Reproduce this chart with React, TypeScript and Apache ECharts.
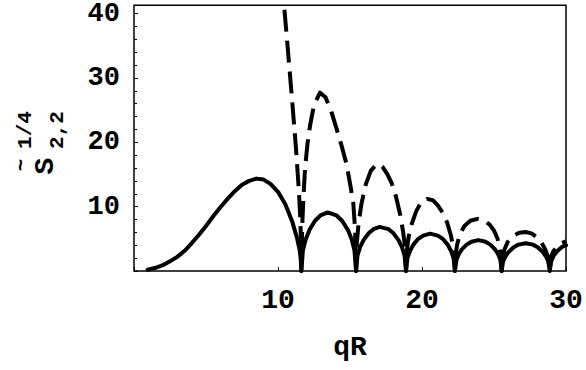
import React, { useEffect, useRef } from "react";
import * as echarts from "echarts";

// Solid curve (qR, value)
const solidQR = [
  0.95, 1.5, 2.0, 2.5, 3.0, 3.5, 4.0, 4.5, 5.0, 5.5, 6.0, 6.5, 7.0, 7.5, 8.0, 8.5, 9.0, 9.5, 10.0, 10.5, 11.0, 11.3, 11.5, 11.58, 11.62,
  11.73, 11.92, 12.19, 12.57, 12.95, 13.45, 14.05, 14.45, 14.85, 15.12, 15.31, 15.42,
  15.52, 15.7, 15.94, 16.29, 16.63, 17.05, 17.68, 18.02, 18.37, 18.61, 18.79, 18.89,
  18.99, 19.16, 19.4, 19.74, 20.08, 20.56, 21.1, 21.44, 21.78, 22.02, 22.19, 22.29,
  22.39, 22.55, 22.78, 23.1, 23.43, 23.92, 24.41, 24.74, 25.06, 25.29, 25.45, 25.53,
  25.63, 25.8, 26.03, 26.37, 26.7, 27.2, 27.7, 28.04, 28.37, 28.6, 28.77, 28.87,
  28.97, 29.15, 29.4, 29.7, 30.0,
];
const solidS = [
  0.2, 0.5, 0.9, 1.5, 2.2, 3.1, 4.3, 5.6, 7.0, 8.5, 9.9, 11.2, 12.4, 13.4, 14.0, 14.35, 14.2, 13.5, 12.3, 10.4, 7.6, 5.3, 3.3, 1.8, 0,
  3.2, 4.9, 6.4, 7.8, 8.65, 9.1, 8.65, 7.8, 6.4, 4.9, 3.2, 0,
  2.4, 3.7, 4.8, 5.85, 6.5, 6.85, 6.5, 5.85, 4.8, 3.7, 2.4, 0,
  2.0, 3.1, 4.1, 5.0, 5.5, 5.8, 5.5, 5.0, 4.1, 3.1, 2.0, 0,
  1.7, 2.6, 3.4, 4.1, 4.55, 4.8, 4.55, 4.1, 3.4, 2.6, 1.7, 0,
  1.5, 2.3, 3.0, 3.7, 4.1, 4.3, 4.1, 3.7, 3.0, 2.3, 1.5, 0,
  1.5, 2.4, 3.1, 3.7, 4.0,
];

// Dashed curve (qR, value)
const dashedQR = [
  10.0, 10.42, 10.7, 11.0, 11.25, 11.45, 11.55, 11.6, 11.62,
  11.68, 11.78, 11.88, 12.05, 12.22, 12.5, 12.92, 13.3, 13.7, 14.08, 14.45, 14.77, 15.05, 15.23, 15.35, 15.42,
  15.48, 15.6, 15.8, 16.1, 16.45, 16.85, 17.25, 17.6, 17.9, 18.2, 18.47, 18.68, 18.82, 18.89,
  18.95, 19.07, 19.3, 19.6, 19.95, 20.35, 20.75, 21.1, 21.45, 21.75, 22.0, 22.18, 22.29,
  22.35, 22.45, 22.64, 22.95, 23.35, 23.85, 24.3, 24.7, 25.0, 25.25, 25.42, 25.53,
  25.6, 25.72, 25.95, 26.3, 26.75, 27.2, 27.6, 28.0, 28.3, 28.55, 28.75, 28.87,
  28.95, 29.1, 29.35, 29.65, 30.0,
];
const dashedS = [
  55, 41.3, 34, 26, 19, 12.5, 8, 4, 0,
  7, 12, 16, 19.8, 22.5, 25.8, 27.7, 27.0, 24.8, 22.0, 19.2, 16.5, 13, 10.5, 6.5, 0,
  4.5, 7.5, 10.5, 13.5, 15.6, 16.6, 16.2, 15.0, 13.6, 11.5, 8.9, 6.2, 3.8, 0,
  3.2, 5.3, 7.4, 9.3, 10.7, 11.2, 11.0, 10.2, 9.0, 7.5, 5.6, 3.6, 0,
  2.8, 4.2, 5.8, 7.0, 7.8, 8.1, 7.9, 7.2, 6.3, 5.0, 3.2, 0,
  2.2, 3.3, 4.5, 5.4, 5.95, 6.05, 5.85, 5.2, 4.4, 3.4, 2.2, 0,
  2.1, 3.0, 3.7, 4.3, 4.6,
];

const xTickLabels = [10, 20, 30];
const yTickLabels = [10, 20, 30, 40];

const FONT = "'Liberation Mono', 'Courier New', monospace";

export default function App() {
  const ref = useRef<HTMLDivElement>(null);
  useEffect(() => {
    if (!ref.current) return;
    const chart = echarts.init(ref.current, undefined, { renderer: "svg" });
    const solid = solidQR.map((x, i) => [x, solidS[i]]);
    const dashed = dashedQR.map((x, i) => [x, dashedS[i]]);
    const labelFmt = (list: number[]) => (v: number) =>
      list.indexOf(Math.round(v * 1000) / 1000) >= 0 && Math.abs(v - Math.round(v)) < 1e-9 ? String(v) : "";
    chart.setOption({
      animation: false,
      backgroundColor: "#fff",
      grid: {
        left: 134,
        right: 20,
        top: 3,
        bottom: 99,
        show: true,
        borderColor: "#000",
        borderWidth: 1.5,
        backgroundColor: "transparent",
      },
      xAxis: {
        type: "value",
        min: 0,
        max: 30,
        interval: 10,
        axisLine: { show: false },
        axisTick: { show: true, inside: true, length: 4, lineStyle: { color: "#000", width: 1 } },
        splitLine: { show: false },
        axisLabel: {
          formatter: labelFmt(xTickLabels),
          color: "#000",
          fontFamily: FONT,
          fontWeight: "bold",
          fontSize: 28,
          margin: 15,
        },
      },
      yAxis: {
        type: "value",
        min: 0,
        max: 41.3,
        interval: 10,
        axisLine: { show: false },
        axisTick: { show: true, inside: true, length: 4, lineStyle: { color: "#000", width: 1 } },
        minorTick: { show: true, splitNumber: 5, length: 3, lineStyle: { color: "#000", width: 1 } },
        splitLine: { show: false },
        axisLabel: {
          formatter: labelFmt(yTickLabels),
          color: "#000",
          fontFamily: FONT,
          fontWeight: "bold",
          fontSize: 27,
          margin: 14,
        },
      },
      series: [
        {
          type: "line",
          data: solid,
          showSymbol: false,
          symbol: "none",
          clip: true,
          lineStyle: { color: "#000", width: 4, join: "round", cap: "round" },
        },
        {
          type: "line",
          data: dashed,
          showSymbol: false,
          symbol: "none",
          clip: true,
          lineStyle: { color: "#000", width: 4, type: [22, 9], join: "round", cap: "butt" },
        },
      ],
      graphic: [
        {
          type: "text",
          x: 350,
          y: 347,
          style: { text: "qR", fill: "#000", font: `bold 28px ${FONT}`, align: "center", verticalAlign: "middle" },
        },
        {
          type: "text",
          x: 45,
          y: 166,
          rotation: Math.PI / 2,
          style: { text: "S", fill: "#000", font: `bold 28px ${FONT}`, align: "center", verticalAlign: "middle" },
        },
        {
          type: "text",
          x: 21,
          y: 165,
          rotation: Math.PI / 2,
          style: { text: "~", fill: "#000", font: `bold 21px ${FONT}`, align: "center", verticalAlign: "middle" },
        },
        {
          type: "text",
          x: 25,
          y: 130,
          rotation: Math.PI / 2,
          style: { text: "1/4", fill: "#000", font: `bold 21px ${FONT}`, align: "center", verticalAlign: "middle" },
        },
        {
          type: "text",
          x: 57.5,
          y: 130,
          rotation: Math.PI / 2,
          style: { text: "2,2", fill: "#000", font: `bold 21px ${FONT}`, align: "center", verticalAlign: "middle" },
        },
      ],
    });
    return () => chart.dispose();
  }, []);
  return <div ref={ref} style={{ width: 586, height: 370, position: "absolute", left: 0, top: 0 }} />;
}
